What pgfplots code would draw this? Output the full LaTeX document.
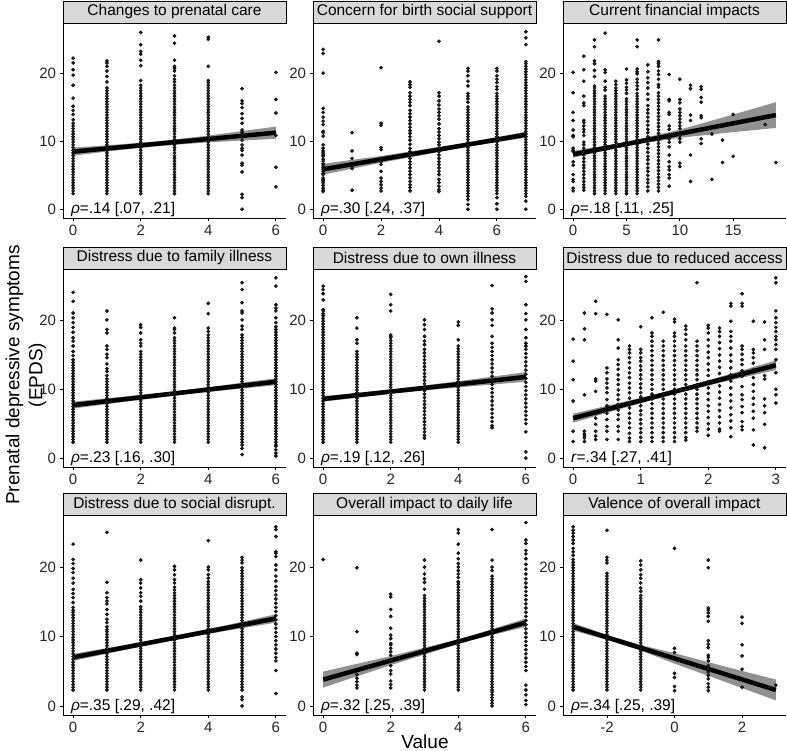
\documentclass[border=0pt]{standalone}
\usepackage{pgfplots}
\pgfplotsset{compat=1.18}
\usepackage{fontspec}
\setmainfont{Liberation Sans}
\definecolor{stripgray}{HTML}{D9D9D9}

\newcommand\addcol[3]{\edef\mycl{#3}\foreach \yy in \mycl {\xdef#1{#1 (#2,\yy)}}}
\def\Dd{2.3,2.7,3.1,3.5,3.9,4.3,4.7,5.1,5.5,5.9,6.3,6.7,7.1,7.5,7.9,8.3,8.7,9.1,9.5,9.9,10.3,10.7}
\edef\Db{\Dd,11.1,11.5,11.9,12.3,12.7}
\def\Dc{13.1,13.5,13.9,14.3,14.7,15.1,15.5,15.9,16.3,16.7,17.1,17.5,17.9}

% Panel 1: Changes to prenatal care
\def\PA{}
\addcol\PA{0}{\Db,13.2,14.0,14.6,15.2,16.4,18.3,19.8,20.6,21.6,22.3}
\addcol\PA{1}{\Db,\Dc,18.8,19.6,20.4,21.1,21.6,21.9}
\addcol\PA{2}{\Db,\Dc,18.3,19.0,21.2,22.0,22.9,23.3,24.3,26.1}
\addcol\PA{3}{\Db,\Dc,18.3,18.8,19.2,19.7,20.4,20.8,21.1,22.0,24.5,25.6}
\addcol\PA{4}{\Db,\Dc,18.3,18.7,19.0,21.1,25.1,25.4}
\addcol\PA{5}{17.8,16.0,15.6,15.0,14.1,13.4,12.7,11.7,11.4,11.0,10.2,9.5,9.0,8.7,8.0,6.8,6.5,5.5,2.2,1.7,0.0}
\addcol\PA{6}{20.2,16.2,14.2,10.9,6.2,3.3}

% Panel 2: Concern for birth social support
\def\PB{}
\addcol\PB{0}{23.6,23.0,20.1,14.9,14.3,13.6,13.0,12.5,11.5,11.3,10.8,9.5,9.0,8.6,8.3,8.0,7.8,7.4,7.1,6.7,6.5,6.2,5.9,5.6,5.3,5.1,4.6,4.4,4.2,3.9,3.5,3.1,2.8,2.6}
\addcol\PB{1}{11.3,8.6,7.5,6.3,6.0,2.8}
\addcol\PB{2}{20.9,12.7,12.4,9.1,8.8,7.5,7.0,6.6,5.6,4.6,4.1,3.6,3.1,2.7}
\addcol\PB{3}{18.8,18.4,18.0,17.2,16.7,16.2,15.8,15.3,14.6,14.1,13.6,13.1,12.6,12.1,11.6,11.2,10.7,10.2,9.6,9.0,8.5,8.0,7.5,7.0,6.6,6.1,5.6,5.1,4.6,4.1,3.6,3.2,2.7}
\addcol\PB{4}{24.8,17.2,16.7,16.0,15.4,14.8,14.3,13.8,13.3,12.6,11.9,11.4,10.9,10.4,9.9,9.5,9.0,8.5,8.0,7.5,7.0,6.6,6.1,5.6,5.1,4.4,3.9,3.4,2.9,2.6}
\addcol\PB{5}{20.8,20.4,19.7,18.9,18.2,17.1,16.7,16.3,15.8,\Db,13.1,13.5,13.9,14.3,14.7,15.1,1.9,1.4,0.7,0.0}
\addcol\PB{6}{20.8,20.4,19.7,19.2,18.7,18.1,17.7,\Db,13.1,13.5,13.9,14.3,14.7,15.1,15.5,15.9,16.3,16.7,17.1,1.7,0.8,0.0}
\addcol\PB{7}{26.2,25.3,24.3,\Db,\Dc,18.3,18.7,19.1,19.5,19.9,20.3,20.7,21.1,21.5,21.8,1.9,1.2,0.0}

% Panel 3: Current financial impacts
\def\PC{}
\addcol\PC{0}{20.2,17.2,14.3,13.1,11.7,10.9,10.7,9.0,8.7,8.5,7.0,6.5,5.1,4.4,4.1,3.1,2.7}
\addcol\PC{1}{22.6,20.6,18.9,16.7,15.7,15.3,13.1,12.8,12.3,11.8,11.4,10.9,9.9,9.5,9.0,8.5,8.0,7.5,7.0,6.5,6.1,5.6,5.1,4.6,4.1,3.6,3.2,2.8}
\addcol\PC{2}{25.0,24.0,21.9,21.5,20.5,19.6,18.2,\Db,\Dc}
\addcol\PC{3}{26.0,20.6,20.2,18.9,18.0,17.6,\Db,13.1,13.5,13.9,14.3,14.7,15.1,15.5,15.9,16.3,16.7}
\addcol\PC{4}{\Db,\Dc,18.4,18.9}
\addcol\PC{5}{20.7,19.1,18.6,18.0,17.6,17.1,\Db,13.1,13.5,13.9,14.3,14.7,15.1,15.5,15.9,16.3}
\addcol\PC{6}{25.0,24.0,20.7,20.3,20.0,19.2,18.7,18.2,17.7,\Db,13.1,13.5,13.9,14.3,14.7,15.1,15.5,15.9,16.3,16.7,17.1}
\addcol\PC{7}{21.3,20.3,19.4,18.7,17.9,17.0,16.2,15.3,14.7,14.2,13.6,13.0,12.4,11.8,11.3,10.7,10.1,9.6,9.0,8.4,7.8,7.3,6.7,6.1,5.6,5.0,4.4,3.9,3.3,2.7}
\addcol\PC{8}{25.0,21.8,21.5,21.1,20.4,19.9,19.2,18.4,18.0,17.2,16.7,16.2,15.7,15.2,14.7,14.2,13.7,13.2,12.7,12.2,11.7,11.2,10.7,10.2,9.7,9.2,8.7,8.2,7.7,7.2,6.7,6.2,5.7,5.2,4.7,4.2,3.7,3.2,2.7}
\addcol\PC{9}{19.9,16.2,16.0,14.3,14.0,12.3,11.8,10.4,9.9,9.2,8.0,7.0,6.3,5.8,5.1,4.6,3.4}
\addcol\PC{10}{19.2,16.2,15.7,14.8,14.3,13.8,13.3,12.8,12.3,11.9,11.1,10.9,10.4,9.9,6.8,6.3}
\addcol\PC{11}{18.3,17.8,13.9,13.1,11.4,8.0,4.1}
\addcol\PC{12}{18.1,17.7,16.5,15.8,13.8,13.5,10.4,9.7}
\addcol\PC{13}{11.1,4.4}
\addcol\PC{14}{10.2,6.9}
\addcol\PC{15}{14.0,7.8}
\addcol\PC{18}{12.5}
\addcol\PC{19}{6.9}

% Panel 4: Distress due to family illness
\def\PD{}
\addcol\PD{0}{24.1,22.8,21.1,20.4,19.7,19.0,18.3,17.5,17.0,16.3,15.5,14.9,\Db,13.1,13.5,13.9,14.3}
\addcol\PD{1}{21.4,20.1,18.7,18.2,16.3,15.8,15.1,14.6,13.7,13.0,12.6,12.0,11.5,11.1,\Dd}
\addcol\PD{2}{19.4,19.0,18.2,17.2,16.7,16.3,\Db,13.1,13.5,13.9,14.3,14.7,15.1,15.5}
\addcol\PD{3}{20.4,18.9,18.7,18.2,\Db,13.1,13.5,13.9,14.3,14.7,15.1,15.5,15.9,16.3,16.7,17.1,17.5}
\addcol\PD{4}{22.5,21.0,18.9,18.4,17.9,\Db,13.1,13.5,13.9,14.3,14.7,15.1,15.5,15.9,16.3,16.7,17.1,17.5}
\addcol\PD{5}{25.5,24.5,22.6,21.4,21.1,20.1,19.2,18.7,\Db,\Dc,1.9,1.4,0.5}
\addcol\PD{6}{26.2,25.0,22.3,21.8,21.4,20.4,19.7,\Db,\Dc,18.3,18.7,19.1,1.9,1.7,1.2,0.7,0.3}

% Panel 5: Distress due to own illness
\def\PE{}
\addcol\PE{0}{25.0,24.5,23.9,23.0,21.6,21.4,\Db,\Dc,18.3,18.7,19.1,19.5,19.9,20.3,20.7,21.0}
\addcol\PE{1}{20.4,18.9,17.2,16.7,\Db,13.1,13.5,13.9,14.3,14.7,15.1,15.5}
\addcol\PE{2}{23.8,22.3,21.4,17.7,\Db,\Dc}
\addcol\PE{3}{20.1,19.4,18.7,17.7,17.0,16.5,15.8,15.3,14.8,14.3,13.8,13.3,12.8,12.3,11.8,11.3,10.8,10.3,9.8,9.3,8.8,8.3,7.8,7.3,6.8,6.3,5.8,5.3,4.8,4.3,3.8,3.3,2.9}
\addcol\PE{4}{19.8,19.3,17.2,\Db,13.1,13.5,13.9,14.3,14.7,15.1,15.5,15.9,16.3}
\addcol\PE{5}{25.1,21.7,21.1,20.1,19.3,17.7,16.7,16.1,15.5,14.9,14.3,13.7,13.1,12.5,11.9,11.3,10.7,10.1,9.5,8.9,8.3,7.7,7.1,6.5,5.9,5.3,4.7,4.4}
\addcol\PE{6}{26.4,25.7,22.3,21.0,20.1,18.7,17.5,16.7,16.3,15.8,15.2,14.6,14.0,13.4,12.8,12.2,11.6,11.0,10.4,9.8,9.2,8.6,8.0,7.4,6.8,6.2,5.6,5.0,3.8,0.9,0.0}

% Panel 6: Distress due to reduced access (x in steps of 1/6)
\def\PF{}
\addcol\PF{0}{17.3,14.1,11.4,8.3,3.9,2.4}
\addcol\PF{0.16667}{21.1,18.8,17.2,9.2,3.9,3.5,3.2,2.9,2.4}
\addcol\PF{0.33333}{22.8,21.0,11.5,11.2,9.7,6.5,5.8,4.9,3.9,3.2,2.7}
\addcol\PF{0.5}{20.9,13.1,12.4,11.5,10.9,10.2,9.5,8.5,7.6,6.5,5.6,4.6,3.9,2.7}
\addcol\PF{0.66667}{20.1,17.2,16.0,14.3,13.6,12.9,12.1,11.4,10.7,9.9,9.2,8.5,7.8,7.0,6.3,5.6,4.6,3.9,2.7}
\addcol\PF{0.83333}{16.3,15.8,15.3,14.6,13.9,13.1,12.4,11.7,10.9,10.2,9.5,8.7,8.0,7.3,6.5,5.8,5.1,4.4,3.6,2.9,2.4}
\addcol\PF{1}{19.1,15.8,15.3,14.6,14.1,13.4,12.8,12.1,11.5,10.8,10.2,9.5,8.9,8.2,7.6,6.9,6.3,5.6,5.0,4.3,3.7,3.0,2.4}
\addcol\PF{1.16667}{20.4,18.2,17.7,17.0,16.3,15.6,14.9,14.2,13.5,12.8,12.1,11.4,10.7,10.0,9.3,8.6,7.9,7.2,6.5,5.8,5.1,4.4,3.7,3.0,2.4}
\addcol\PF{1.33333}{21.2,17.0,16.3,15.6,14.9,14.2,13.5,12.8,12.1,11.4,10.7,10.0,9.3,8.6,7.9,7.2,6.5,5.8,5.1,4.4,3.7,3.0,2.4}
\addcol\PF{1.5}{20.2,19.8,18.2,17.7,17.0,16.3,15.6,14.9,14.2,13.5,12.8,12.1,11.4,10.7,10.0,9.3,8.6,7.9,7.2,6.5,5.8,5.1,4.4,3.7,3.0,2.4}
\addcol\PF{1.66667}{19.2,18.7,18.0,17.2,16.3,15.6,14.9,14.2,13.5,12.8,12.1,11.4,10.7,10.0,9.3,8.6,7.9,7.2,6.5,5.8,5.1,4.4,3.7,3.0,2.6}
\addcol\PF{1.83333}{25.5,17.0,16.3,15.6,14.9,14.2,13.5,12.8,12.1,11.4,10.7,10.0,9.3,8.6,7.9,7.2,6.5,5.8,5.1,4.4,3.9}
\addcol\PF{2}{19.3,18.9,18.2,17.2,16.3,15.4,14.6,13.7,12.8,12.0,11.1,10.2,9.4,8.5,7.6,6.8,5.9,5.0,4.2,3.3}
\addcol\PF{2.16667}{18.9,18.4,17.7,16.8,15.9,15.0,14.1,13.2,12.3,11.4,10.5,9.6,8.7,7.8,6.9,6.0,5.1,4.2,3.9}
\addcol\PF{2.33333}{22.5,22.1,19.9,18.4,17.7,17.0,16.0,15.0,14.1,13.1,12.1,11.2,10.2,9.2,8.3,7.3,6.3,5.4,4.4,3.1}
\addcol\PF{2.5}{23.9,22.5,22.1,16.3,15.8,15.1,14.3,13.6,12.7,11.9,10.4,9.2,8.5,7.5,6.6,5.3,4.6,4.1}
\addcol\PF{2.66667}{19.9,15.8,15.3,14.6,13.8,12.8,11.7,10.7,9.7,8.7,7.8,6.8,5.8,4.1,1.9}
\addcol\PF{2.83333}{19.8,17.2,15.8,12.0,11.5,8.6,7.6,6.6,4.9,1.5}
\addcol\PF{3}{26.2,25.5,21.4,20.4,19.7,19.0,18.4,17.7,17.2,16.5,15.8,14.3,12.4,10.0,9.2,8.0}

% Panel 7: Distress due to social disrupt.
\def\PG{}
\addcol\PG{0}{23.3,21.1,20.5,19.8,19.2,18.4,17.7,16.8,16.2,15.6,14.9,14.2,13.8,\Db,13.1,13.5}
\addcol\PG{1}{25.0,17.8,16.3,15.6,15.1,14.7,13.9,13.2,12.5,12.0,11.4,11.0,\Dd}
\addcol\PG{2}{21.0,18.2,17.7,17.0,16.3,15.8,15.1,\Db,13.1,13.5,13.9,14.3}
\addcol\PG{3}{20.1,19.6,18.9,18.2,17.7,\Db,13.1,13.5,13.9,14.3,14.7,15.1,15.5,15.9,16.3,16.7,17.1}
\addcol\PG{4}{23.8,20.0,19.6,18.9,18.4,\Db,\Dc}
\addcol\PG{5}{21.4,21.0,20.6,\Db,\Dc,18.3,18.7,19.1,19.5,19.9,1.3,0.9,0.0}
\addcol\PG{6}{25.8,25.4,24.4,22.2,22.0,21.5,20.3,19.6,18.7,18.0,17.2,16.6,16.0,15.4,14.8,14.2,13.6,13.0,12.4,11.8,11.2,10.6,10.0,9.4,8.8,8.2,7.6,7.0,6.5,5.1,1.8}

% Panel 8: Overall impact to daily life
\def\PH{}
\addcol\PH{0}{21.1}
\addcol\PH{1}{19.9,10.7,7.6,7.4,4.5,4.0,3.5,3.0,2.6}
\addcol\PH{2}{16.1,15.7,13.9,12.9,11.2,10.2,9.7,9.0,8.8,8.3,7.8,7.3,6.6,5.8,5.1,4.6,3.6,3.1,2.6}
\addcol\PH{3}{21.0,20.0,19.0,18.3,17.8,16.8,\Db,13.1,13.5,13.9,14.3,14.7,15.1,15.5,15.9}
\addcol\PH{4}{25.4,24.9,23.3,22.0,21.2,20.5,20.0,19.5,19.0,18.5,17.8,\Db,\Dc}
\addcol\PH{5}{25.4,21.0,20.0,19.5,\Db,\Dc,18.3,18.7,2.0,1.6,1.2,0.8,0.4,0.0}
\addcol\PH{6}{26.4,23.9,23.4,22.4,21.9,21.2,20.4,19.7,19.0,18.3,17.7,17.1,16.5,15.9,15.3,14.7,14.1,13.5,12.9,12.3,11.7,11.1,10.5,9.9,9.3,8.7,8.1,7.5,6.9,6.3,5.7,5.1,3.0,2.3,1.6,0.8,0.2}

% Panel 9: Valence of overall impact
\def\PI{}
\addcol\PI{-3}{25.8,25.3,24.9,24.4,23.9,23.4,22.7,22.2,21.7,\Db,\Dc,18.3,18.7,19.1,19.5,19.9,20.3,20.7,21.1}
\addcol\PI{-2}{25.3,21.4,21.0,20.6,\Db,\Dc,18.3,18.7,19.1}
\addcol\PI{-1}{20.9,20.3,19.6,18.9,18.4,17.7,17.0,16.5,\Db,13.1,13.5,13.9,14.3,14.7,15.1,15.5,15.9}
\addcol\PI{0}{22.7,8.3,7.7,4.7,4.1,2.8,2.2}
\addcol\PI{1}{21.0,19.9,14.1,13.8,13.4,12.9,12.2,9.4,8.9,8.4,7.3,7.0,6.5,5.8,5.3,4.9,4.4,3.9,3.2,2.7,2.2}
\addcol\PI{2}{12.8,11.9,8.8,7.2,5.3,2.7}
\addcol\PI{3}{3.0}

\newcommand\tickfont{\fontsize{15}{17}\selectfont}
\newcommand\stripfont{\fontsize{15.5}{17}\selectfont}
\newcommand\annfont{\fontsize{15.5}{17}\selectfont}

\pgfplotsset{
  panel/.style={
    scale only axis, width=223pt, anchor=south west,
    ymin=-1.3, ymax=27.5, ytick={0,10,20},
    axis x line*=bottom, axis y line*=left,
    axis line style={-, line width=0.9pt, black},
    tick align=outside, major tick length=3.5pt,
    tick style={line width=0.8pt, black},
    ticklabel style={font=\tickfont, text=black!85},
    /pgf/number format/assume math mode=true,
  },
  dots/.style={only marks, mark=*, mark size=1.65pt, mark options={draw=none, fill=black!85}},
  band/.style={fill=black!60, fill opacity=0.72, draw=none},
  fit/.style={black, line width=4.5pt},
}

\newcommand\strip[2]{%
  \draw[fill=stripgray, line width=0.8pt] (#1.north west) rectangle ++(223pt,22pt);
  \path (#1.north west) ++(111.5pt,11pt) node[font=\stripfont] {#2};
}
\newcommand\ann[1]{\node[anchor=west, inner sep=0pt, font=\annfont] at (axis description cs:0.035,0.045) {#1};}

\begin{document}
\begin{tikzpicture}
\useasboundingbox (0,0) rectangle (787pt,751pt);

% Row 1
\begin{axis}[panel, name=A1, at={(63pt,533pt)}, height=195pt, xmin=-0.3, xmax=6.3, xtick={0,2,4,6}]
\edef\tmp{\noexpand\addplot[dots] coordinates {\PA};}\tmp
\addplot[band] coordinates {(0,7.9) (1,8.52) (2.5,9.32) (4,9.87) (6,10.4) (6,12.2) (4,10.87) (2.5,10.02) (1,9.42) (0,9.1)} --cycle;
\addplot[fit] coordinates {(0,8.5) (6,11.3)};
\ann{\textit{ρ}=.14 [.07, .21]}
\end{axis}
\strip{A1}{Changes to prenatal care}

\begin{axis}[panel, name=A2, at={(313pt,533pt)}, height=195pt, xmin=-0.35, xmax=7.35, xtick={0,2,4,6}]
\edef\tmp{\noexpand\addplot[dots] coordinates {\PB};}\tmp
\addplot[band] coordinates {(0,5.1) (2,6.86) (5,9.25) (7,10.55) (7,11.45) (5,9.85) (2,7.86) (0,6.7)} --cycle;
\addplot[fit] coordinates {(0,5.9) (7,11.0)};
\ann{\textit{ρ}=.30 [.24, .37]}
\end{axis}
\strip{A2}{Concern for birth social support}

\begin{axis}[panel, name=A3, at={(563pt,533pt)}, height=195pt, xmin=-0.95, xmax=19.95, xtick={0,5,10,15}]
\edef\tmp{\noexpand\addplot[dots] coordinates {\PC};}\tmp
\addplot[band] coordinates {(0,7.6) (5,9.33) (10,10.55) (15,11.38) (19,12.0) (19,15.8) (15,13.98) (10,11.75) (5,9.93) (0,8.6)} --cycle;
\addplot[fit] coordinates {(0,8.1) (19,13.9)};
\ann{\textit{ρ}=.18 [.11, .25]}
\end{axis}
\strip{A3}{Current financial impacts}

% Row 2
\begin{axis}[panel, name=B1, at={(63pt,284pt)}, height=198pt, xmin=-0.3, xmax=6.3, xtick={0,2,4,6}]
\edef\tmp{\noexpand\addplot[dots] coordinates {\PD};}\tmp
\addplot[band] coordinates {(0,7.2) (2,8.48) (3.5,9.38) (6,10.6) (6,11.6) (3.5,9.98) (2,9.18) (0,8.2)} --cycle;
\addplot[fit] coordinates {(0,7.7) (6,11.1)};
\ann{\textit{ρ}=.23 [.16, .30]}
\end{axis}
\strip{B1}{Distress due to family illness}

\begin{axis}[panel, name=B2, at={(313pt,284pt)}, height=198pt, xmin=-0.3, xmax=6.3, xtick={0,2,4,6}]
\edef\tmp{\noexpand\addplot[dots] coordinates {\PE};}\tmp
\addplot[band] coordinates {(0,8.2) (2,9.37) (4,10.28) (6,11.1) (6,12.5) (4,11.18) (2,9.97) (0,9.0)} --cycle;
\addplot[fit] coordinates {(0,8.6) (6,11.8)};
\ann{\textit{ρ}=.19 [.12, .26]}
\end{axis}
\strip{B2}{Distress due to own illness}

\begin{axis}[panel, name=B3, at={(563pt,284pt)}, height=198pt, xmin=-0.15, xmax=3.15, xtick={0,1,2,3}]
\edef\tmp{\noexpand\addplot[dots] coordinates {\PF};}\tmp
\addplot[band] coordinates {(0,5.15) (0.75,7.28) (1.5,9.35) (2.25,11.13) (3,12.8) (3,14.2) (2.25,12.03) (1.5,9.95) (0.75,8.18) (0,6.45)} --cycle;
\addplot[fit] coordinates {(0,5.8) (3,13.5)};
\ann{\textit{r}=.34 [.27, .41]}
\end{axis}
\strip{B3}{Distress due to reduced access}

% Row 3
\begin{axis}[panel, name=C1, at={(63pt,36pt)}, height=200pt, xmin=-0.3, xmax=6.3, xtick={0,2,4,6}]
\edef\tmp{\noexpand\addplot[dots] coordinates {\PG};}\tmp
\addplot[band] coordinates {(0,6.5) (1.5,8.05) (3,9.5) (4.5,10.8) (6,12.0) (6,13.2) (4.5,11.6) (3,10.1) (1.5,8.75) (0,7.5)} --cycle;
\addplot[fit] coordinates {(0,7.0) (6,12.6)};
\ann{\textit{ρ}=.35 [.29, .42]}
\end{axis}
\strip{C1}{Distress due to social disrupt.}

\begin{axis}[panel, name=C2, at={(313pt,36pt)}, height=200pt, xmin=-0.3, xmax=6.3, xtick={0,2,4,6}]
\edef\tmp{\noexpand\addplot[dots] coordinates {\PH};}\tmp
\addplot[band] coordinates {(0,2.65) (2,5.88) (4.3,9.38) (6,11.4) (6,12.6) (4.3,9.98) (2,7.18) (0,4.95)} --cycle;
\addplot[fit] coordinates {(0,3.8) (6,12.0)};
\ann{\textit{ρ}=.32 [.25, .39]}
\end{axis}
\strip{C2}{Overall impact to daily life}

\begin{axis}[panel, name=C3, at={(563pt,36pt)}, height=200pt, xmin=-3.3, xmax=3.3, xtick={-2,0,2}]
\edef\tmp{\noexpand\addplot[dots] coordinates {\PI};}\tmp
\addplot[band] coordinates {(-3,10.85) (-2,9.53) (-1,7.97) (0,6.1) (1.5,3.47) (3,0.8) (3,3.8) (1.5,5.67) (0,7.6) (-1,8.77) (-2,10.23) (-3,11.95)} --cycle;
\addplot[fit] coordinates {(-3,11.4) (3,2.3)};
\ann{\textit{ρ}=.34 [.25, .39]}
\end{axis}
\strip{C3}{Valence of overall impact}

\node[rotate=90, align=center, font=\fontsize{19}{23}\selectfont] at (26pt,376pt) {Prenatal depressive symptoms\\(EPDS)};
\node[anchor=base, inner sep=0pt, font=\fontsize{19}{22}\selectfont] at (425pt,2.5pt) {Value};
\end{tikzpicture}
\end{document}
